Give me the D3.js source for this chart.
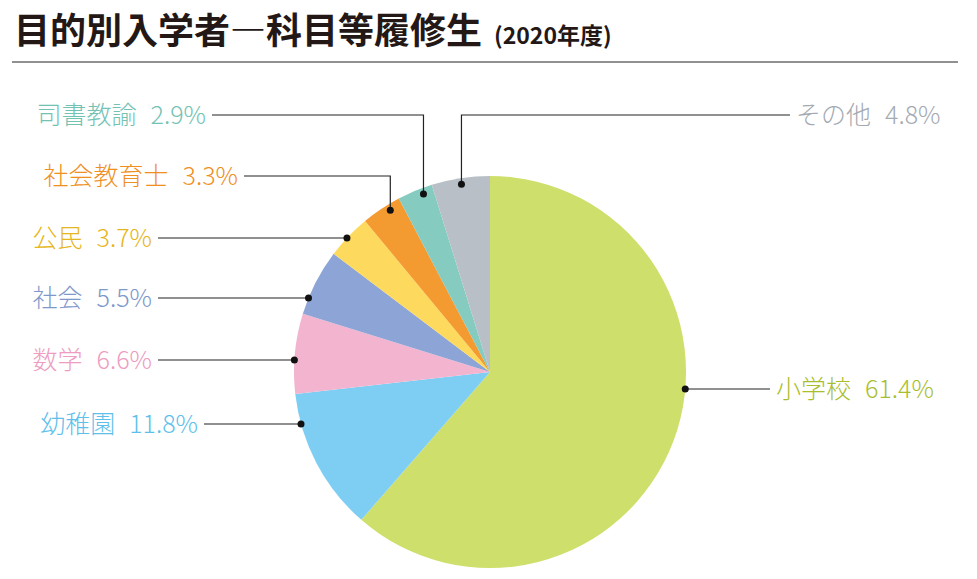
<!DOCTYPE html><html><head><meta charset="utf-8">
<script src="https://cdn.jsdelivr.net/npm/d3@7"></script>
<style>body{margin:0;background:#fff}</style></head><body>
<svg id="c" width="977" height="579"></svg>
<script>
const categories=["小学校","幼稚園","数学","社会","公民","社会教育士","司書教諭","その他"];
const values=[61.4,11.8,6.6,5.5,3.7,3.3,2.9,4.8];
const colors=["#cfdf6b","#7ecef4","#f3b4d0","#8ca5d6","#fdd95e","#f39a31","#86cbc0","#b9bfc6"];
const textColors=["#a9be2e","#5fbfeb","#ee9cc1","#7f98cc","#e6b620","#ef8f22","#73c2b4","#a4aab2"];
const layout=[
 {y:389,side:"r",lx:776},
 {y:424,side:"l",lx:198},
 {y:360,side:"l",lx:152},
 {y:298,side:"l",lx:152},
 {y:238,side:"l",lx:152},
 {y:176,side:"l",lx:238,v:true},
 {y:115,side:"l",lx:206,v:true},
 {y:115,side:"r",lx:796,v:true}
];
const svg=d3.select("#c");
const F="'Noto Sans CJK JP',sans-serif";
const t=svg.append("text").attr("x",14).attr("y",44).attr("font-family",F).attr("font-weight",700)
 .attr("font-size",36).attr("fill","#231815").text("目的別入学者―科目等履修生");
t.append("tspan").attr("font-size",23).attr("dx",12).text("(2020年度)");
svg.append("line").attr("x1",12).attr("x2",958).attr("y1",62).attr("y2",62).attr("stroke","#222").attr("stroke-width",1);
const cx=490,cy=372,r=196;
const g=svg.append("g").attr("transform",`translate(${cx},${cy})`);
const pie=d3.pie().sort(null).value(d=>d)(values);
const arc=d3.arc().innerRadius(0).outerRadius(r);
g.selectAll("path").data(pie).join("path").attr("d",arc).attr("fill",(d,i)=>colors[i]);
pie.forEach((d,i)=>{
 const L=layout[i];let px,py;
 if(L.v){const a=(d.startAngle+d.endAngle)/2+(i==7?0:0.035);px=cx+(r-6)*Math.sin(a);py=cy-(r-6)*Math.cos(a);}
 else{py=L.y;const dx=Math.sqrt(r*r-(py-cy)**2);px=L.side=="r"?cx+dx:cx-dx;}
 const pts=L.v?[[px,py],[px,L.y],[L.lx+(L.side=="r"?-6:6),L.y]]:[[px,py],[L.lx+(L.side=="r"?-6:6),L.y]];
 svg.append("path").attr("d",d3.line()(pts)).attr("fill","none").attr("stroke","#222").attr("stroke-width",1.2);
 svg.append("circle").attr("cx",px).attr("cy",py).attr("r",3.5).attr("fill","#111");
 const tx=svg.append("text").attr("x",L.lx).attr("y",L.y+9).attr("text-anchor",L.side=="r"?"start":"end")
  .attr("font-family",F).attr("font-size",25).attr("font-weight",300).attr("fill",textColors[i]);
 tx.append("tspan").text(categories[i]);
 tx.append("tspan").attr("dx",14).text(values[i].toFixed(1)+"%");
});
</script></body></html>
